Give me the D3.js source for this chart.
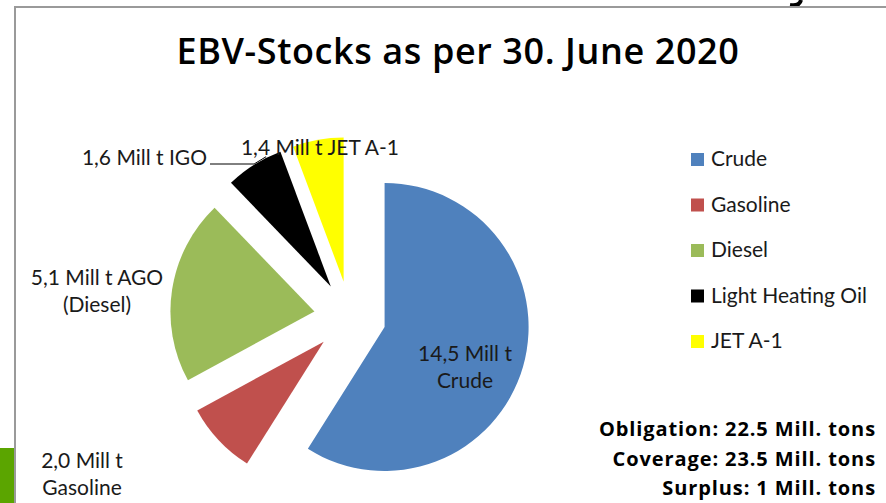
<!DOCTYPE html>
<html>
<head>
<meta charset="utf-8">
<script src="https://cdnjs.cloudflare.com/ajax/libs/d3/7.8.5/d3.min.js"></script>
<style>
  body { margin: 0; background: #fff; }
  text { font-family: Lato, "Open Sans", sans-serif; fill: #1a1a1a; }
</style>
</head>
<body>
<div id="chart"></div>
<script>
// data (million tons)
const categories = ["Crude", "Gasoline", "Diesel", "Light Heating Oil", "JET A-1"];
const values = [14.5, 2.0, 5.1, 1.6, 1.4];
const sliceLabels = [
    ["14,5 Mill t", "Crude"],
    ["2,0 Mill t", "Gasoline"],
    ["5,1 Mill t AGO", "(Diesel)"],
    ["1,6 Mill t IGO"],
    ["1,4 Mill t JET A-1"]
];
const notes = ["Obligation: 22.5 Mill. tons", "Coverage: 23.5 Mill. tons", "Surplus: 1 Mill. tons"];
const title = "EBV-Stocks as per 30. June 2020";

const width = 886, height = 503;

const svg = d3.select("#chart").append("svg")
    .attr("width", width)
    .attr("height", height);

// slide bits around the chart
svg.append("rect")
    .attr("x", 0).attr("y", 448)
    .attr("width", 14).attr("height", 55)
    .attr("fill", "#5ba500");

// tail of a letter from the slide above, only a sliver shows
svg.append("path")
    .attr("d", "M801,0 C800,4 796,6 790,5")
    .attr("fill", "none")
    .attr("stroke", "#000")
    .attr("stroke-width", 4);

// chart frame
svg.append("path")
    .attr("d", "M15,503 V7 H886")
    .attr("fill", "none")
    .attr("stroke", "#9a9a9a")
    .attr("stroke-width", 2);

// title
svg.append("text")
    .attr("x", 458).attr("y", 64)
    .attr("text-anchor", "middle")
    .attr("font-size", 36)
    .attr("font-weight", 600)
    .attr("letter-spacing", 0.6)
    .style("font-family", "'Open Sans', sans-serif")
    .style("fill", "#000")
    .text(title);

// pie
let color = d3.scaleOrdinal()
    .domain(categories)
    .range(["#4f81bd", "#c0504d", "#9bbb59", "#000000", "#ffff00"]);

let cx = 350, cy = 317, radius = 144, explode = 36;

let pie = d3.pie().sort(null).value(d => d)
    .startAngle(0).endAngle(2 * Math.PI);
let arcs = pie(values);

let arc = d3.arc().innerRadius(0).outerRadius(radius);

let pieG = svg.append("g")
    .attr("transform", "translate(" + cx + "," + cy + ")");

pieG.selectAll(".slice")
    .data(arcs)
    .enter()
    .append("path")
    .attr("class", "slice")
    .attr("transform", d => {
        let mid = (d.startAngle + d.endAngle) / 2;
        return "translate(" + (explode * Math.sin(mid)) + "," + (-explode * Math.cos(mid)) + ")";
    })
    .attr("d", arc)
    .attr("fill", (d, i) => color(categories[i]));

// label placement (x, first baseline, anchor)
let labelPos = [
    {x: 465, y: 361, anchor: "middle"},
    {x: 82, y: 468, anchor: "middle"},
    {x: 97, y: 285, anchor: "middle"},
    {x: 207, y: 165, anchor: "end"},
    {x: 320, y: 155, anchor: "middle"}
];

// leader line for IGO, from slice edge to the label
let igo = arcs[3];
let igoMid = (igo.startAngle + igo.endAngle) / 2;
let edgeX = cx + (explode + radius) * Math.sin(igoMid);
let edgeY = cy - (explode + radius) * Math.cos(igoMid);
svg.append("path")
    .attr("d", "M" + (edgeX + 12) + "," + (edgeY - 8) + " L" + edgeX + "," + 164 + " H210")
    .attr("fill", "none")
    .attr("stroke", "#000")
    .attr("stroke-width", 1);

sliceLabels.forEach((lines, i) => {
    let t = svg.append("text")
        .attr("x", labelPos[i].x)
        .attr("y", labelPos[i].y)
        .attr("text-anchor", labelPos[i].anchor)
        .attr("font-size", 21);
    lines.forEach((s, j) => {
        t.append("tspan")
            .attr("x", labelPos[i].x)
            .attr("dy", j == 0 ? 0 : 27)
            .text(s);
    });
});

// legend
let legend = svg.append("g")
    .attr("transform", "translate(691,153)");

let item = legend.selectAll(".item")
    .data(categories)
    .enter()
    .append("g")
    .attr("class", "item")
    .attr("transform", (d, i) => "translate(0," + (i * 45.5) + ")");

item.append("rect")
    .attr("width", 13).attr("height", 13)
    .attr("fill", d => color(d));

item.append("text")
    .attr("x", 20).attr("y", 13)
    .attr("font-size", 21)
    .text(d => d);

// notes at bottom right
svg.selectAll(".note")
    .data(notes)
    .enter()
    .append("text")
    .attr("class", "note")
    .attr("x", 876)
    .attr("y", (d, i) => 436 + i * 29.5)
    .attr("text-anchor", "end")
    .attr("font-size", 20)
    .attr("font-weight", 700)
    .attr("letter-spacing", 0.9)
    .style("font-family", "'Open Sans', sans-serif")
    .style("fill", "#000")
    .text(d => d);
</script>
</body>
</html>
